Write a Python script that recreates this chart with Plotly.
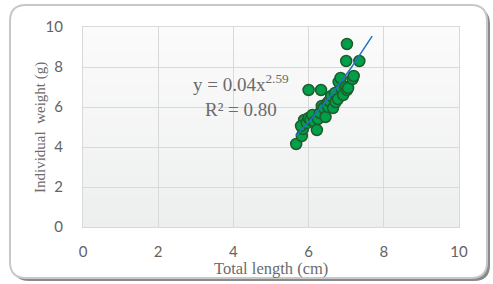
import numpy as np
import plotly.graph_objects as go

# Data
total_length = [5.67, 5.82, 5.85, 5.88, 5.80, 5.95, 6.00, 6.05, 6.10, 6.15, 6.22, 6.25, 6.30,
                6.35, 6.40, 6.45, 6.50, 6.52, 6.55, 6.60, 6.65, 6.70, 6.72, 6.78, 6.80, 6.85,
                6.88, 6.92, 6.98, 7.02, 7.05, 7.17, 7.20, 7.00, 7.35, 7.02, 6.00, 6.33]
weight = [4.15, 4.55, 4.90, 5.35, 5.05, 5.20, 5.45, 5.35, 5.60, 5.25, 4.85, 5.40, 5.70,
          6.05, 5.95, 5.50, 6.20, 6.00, 6.30, 6.55, 5.95, 6.70, 6.25, 6.40, 7.25, 7.45,
          6.90, 6.60, 7.00, 6.85, 6.95, 7.40, 7.55, 8.30, 8.30, 9.15, 6.85, 6.85]
x_ticks = [0, 2, 4, 6, 8, 10]
y_ticks = [0, 2, 4, 6, 8, 10]
# trendline as drawn in the reference (power law y = a * x^b)
trend_a = 0.0691
trend_b = 2.416
trend_start = 5.67
trend_end = 7.69
equation_text = "y = 0.04x<sup>2.59</sup><br>R² = 0.80"

tx = np.linspace(trend_start, trend_end, 60)
ty = trend_a * tx ** trend_b

fig = go.Figure()
fig.add_trace(go.Scatter(
    x=total_length, y=weight, mode="markers",
    marker=dict(size=11, color="#00a04b", line=dict(color="#1e5c2c", width=1.5)),
    showlegend=False, hoverinfo="skip"))
fig.add_trace(go.Scatter(
    x=tx, y=ty, mode="lines", line=dict(color="#2272c9", width=1.5),
    showlegend=False, hoverinfo="skip"))

W, H = 493, 284
L, R, T, B = 83, 34, 27, 57
pw, ph = W - L - R, H - T - B

def px(v):
    return (v - L) / pw

def py(v):
    return (H - B - v) / ph

def rrect(x0, y0, x1, y1, r):
    X0, X1 = px(x0), px(x1)
    Y0, Y1 = py(y0), py(y1)  # Y0 top, Y1 bottom
    rx, ry = r / pw, r / ph
    return (f"M {X0+rx},{Y0} L {X1-rx},{Y0} Q {X1},{Y0} {X1},{Y0-ry} "
            f"L {X1},{Y1+ry} Q {X1},{Y1} {X1-rx},{Y1} "
            f"L {X0+rx},{Y1} Q {X0},{Y1} {X0},{Y1+ry} "
            f"L {X0},{Y0-ry} Q {X0},{Y0} {X0+rx},{Y0} Z")

shapes = [
    dict(type="path", xref="paper", yref="paper", path=rrect(13, 8, 490, 281, 16),
         fillcolor="#8a8a8a", line=dict(width=0), layer="below"),
    dict(type="path", xref="paper", yref="paper", path=rrect(10, 5, 487, 278, 16),
         fillcolor="#ffffff", line=dict(color="#c8c8c8", width=2), layer="below"),
]
# plot-area vertical gradient (top light -> bottom slightly darker)
top_c = np.array([251, 251, 251])
bot_c = np.array([237, 239, 238])
nb = 24
for i in range(nb):
    t = (i + 0.5) / nb
    c = (top_c * (1 - t) + bot_c * t).round().astype(int)
    shapes.append(dict(type="rect", xref="paper", yref="paper", x0=0, x1=1,
                       y0=1 - (i + 1) / nb, y1=1 - i / nb + 0.002,
                       fillcolor=f"rgb({c[0]},{c[1]},{c[2]})", line=dict(width=0),
                       layer="below"))

tick_font = dict(family="Lato, Open Sans, sans-serif", size=15, color="#636363")
fig.update_layout(
    width=W, height=H,
    margin=dict(l=L, r=R, t=T, b=B),
    paper_bgcolor="white", plot_bgcolor="rgba(0,0,0,0)",
    shapes=shapes,
    xaxis=dict(range=[0, 10], tickvals=x_ticks, showgrid=True, gridcolor="#d9d9d9",
               zeroline=False, showline=True, linecolor="#d9d9d9", mirror=True,
               tickfont=tick_font, ticks="outside", ticklen=11, tickcolor="rgba(0,0,0,0)"),
    yaxis=dict(range=[0, 10], tickvals=y_ticks, showgrid=True, gridcolor="#d9d9d9",
               zeroline=False, showline=True, linecolor="#d9d9d9", mirror=True,
               tickfont=tick_font, ticks="outside", ticklen=16, tickcolor="rgba(0,0,0,0)"),
    annotations=[
        dict(x=4.2, y=6.6, xref="x", yref="y", text=equation_text, showarrow=False,
             font=dict(family="Liberation Serif, serif", size=19, color="#6b6b6b"),
             align="center"),
        dict(x=0.5, y=py(268), xref="paper", yref="paper", text="Total length (cm)",
             xanchor="center", yanchor="middle", showarrow=False,
             font=dict(family="Liberation Serif, serif", size=16.5, color="#6b6b6b")),
        dict(x=px(40), y=py(128), xref="paper", yref="paper", text="Individual\u00a0 weight (g)",
             xanchor="center", yanchor="middle", textangle=-90, showarrow=False,
             font=dict(family="Liberation Serif, serif", size=15, color="#6b6b6b")),
    ],
)

fig.write_html("out.html", config={"displayModeBar": False},
               post_script="document.body.style.margin='0';")
